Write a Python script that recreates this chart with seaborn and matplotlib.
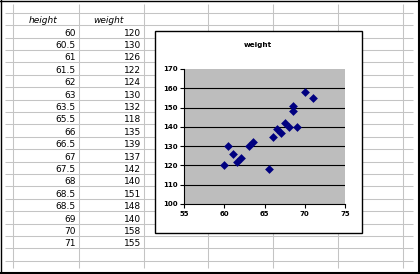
import matplotlib
matplotlib.use("Agg")
import matplotlib.pyplot as plt
import seaborn as sns
import pandas as pd
from matplotlib.patches import Rectangle

# ---- data ----
height = [60, 60.5, 61, 61.5, 62, 63, 63.5, 65.5, 66, 66.5, 67, 67.5, 68, 68.5, 68.5, 69, 70, 71]
weight = [120, 130, 126, 122, 124, 130, 132, 118, 135, 139, 137, 142, 140, 151, 148, 140, 158, 155]
col_headers = ["height", "weight"]
chart_title = "weight"
x_ticks = [55, 60, 65, 70, 75]
y_ticks = [100, 110, 120, 130, 140, 150, 160, 170]

df = pd.DataFrame({"height": height, "weight": weight})

W, H = 420, 274
fig = plt.figure(figsize=(W / 100, H / 100), dpi=100)
fig.patch.set_facecolor("white")

# ---- spreadsheet background ----
bg = fig.add_axes([0, 0, 1, 1])
bg.set_xlim(0, W)
bg.set_ylim(H, 0)
bg.axis("off")

grid_c = "#c4c4c4"
row0, rh = 12.7, 12.4
vcols = [13, 79, 144, 208, 273, 338, 403]
for k in range(21):
    y = row0 + rh * k
    bg.plot([5, 413], [y, y], color=grid_c, lw=0.75, zorder=1, solid_capstyle="butt")
for x in vcols:
    bg.plot([x, x], [4, 268], color=grid_c, lw=0.75, zorder=1, solid_capstyle="butt")

# outer border
bg.plot([0.5, 0.5], [0, 274], color="black", lw=1.0, zorder=3)
bg.plot([0, 420], [0.5, 0.5], color="black", lw=1.0, zorder=3)
bg.plot([418.5, 418.5], [0, 274], color="black", lw=1.5, zorder=3)
bg.plot([0, 420], [272.8, 272.8], color="black", lw=1.5, zorder=3)

# table text
fs = 6.5
for j, name in enumerate(col_headers):
    cx = (vcols[j] + vcols[j + 1]) / 2 - 3
    bg.text(cx, row0 + rh - 2.2, name, ha="center", va="baseline",
            fontsize=fs, fontstyle="italic", zorder=4)
for i, (h, w) in enumerate(zip(height, weight)):
    yb = row0 + rh * (i + 2) - 1.8
    bg.text(vcols[1] - 3, yb, f"{h:g}", ha="right", va="baseline", fontsize=fs, zorder=4)
    bg.text(vcols[2] - 3, yb, f"{w:g}", ha="right", va="baseline", fontsize=fs, zorder=4)

# chart box
bx0, by0, bx1, by1 = 154.7, 30.7, 361.7, 232.7
bg.add_patch(Rectangle((bx0, by0), bx1 - bx0, by1 - by0, facecolor="white",
                       edgecolor="black", lw=1.0, zorder=5))
bg.text((bx0 + bx1) / 2, 44.5, chart_title, ha="center", va="center",
        fontsize=5.2, fontweight="bold", zorder=6)

# ---- chart ----
px0, py0, px1, py1 = 184.3, 69, 345, 204
ax = fig.add_axes([px0 / W, 1 - py1 / H, (px1 - px0) / W, (py1 - py0) / H])
ax.set_facecolor("#bdbdbd")
sns.scatterplot(data=df, x="height", y="weight", marker="D", color="#000080",
                s=20, linewidth=0, ax=ax, zorder=3)
ax.set_xlim(55, 75)
ax.set_ylim(100, 170)
ax.set_xticks(x_ticks)
ax.set_yticks(y_ticks)
ax.set_xlabel("")
ax.set_ylabel("")
ax.yaxis.grid(True, color="black", lw=0.8)
ax.get_ygridlines()[-1].set_visible(False)
ax.get_ygridlines()[0].set_visible(False)
ax.set_axisbelow(True)
for s in ["top", "right"]:
    ax.spines[s].set_visible(False)
for s in ["left", "bottom"]:
    ax.spines[s].set_color("black")
    ax.spines[s].set_linewidth(0.8)
ax.tick_params(axis="both", labelsize=5, width=0.8, length=2.8, pad=2, colors="black")
for lab in ax.get_xticklabels() + ax.get_yticklabels():
    lab.set_fontweight("bold")

fig.savefig("out.png", dpi=100)
